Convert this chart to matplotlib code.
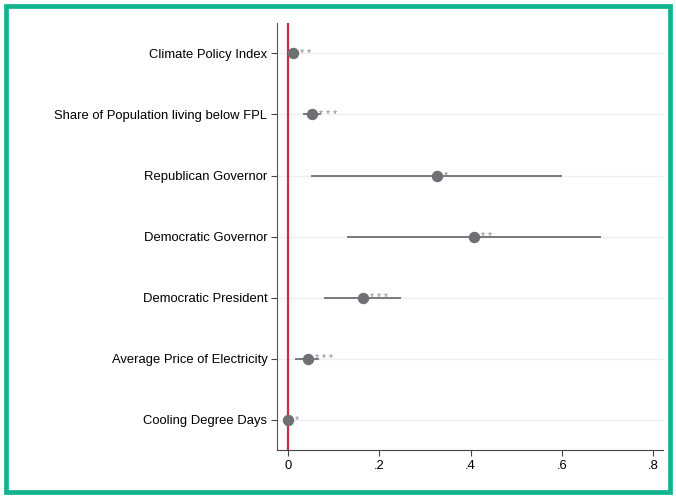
import matplotlib

matplotlib.use("Agg")

import matplotlib.pyplot as plt
from matplotlib.patches import Rectangle

labels = [
    "Climate Policy Index",
    "Share of Population living below FPL",
    "Republican Governor",
    "Democratic Governor",
    "Democratic President",
    "Average Price of Electricity",
    "Cooling Degree Days",
]
coef = [0.011, 0.053, 0.326, 0.408, 0.164, 0.044, 0.0]
ci_low = [0.008, 0.035, 0.053, 0.132, 0.081, 0.018, -0.002]
ci_high = [0.014, 0.070, 0.598, 0.684, 0.246, 0.066, 0.002]
stars = ["**", "***", "*", "**", "***", "***", "*"]
xticks = [0, 0.2, 0.4, 0.6, 0.8]
xticklabels = ["0", ".2", ".4", ".6", ".8"]

plt.rcParams["font.family"] = ["Liberation Sans", "DejaVu Sans"]

fig = plt.figure(figsize=(6.76, 4.98), dpi=100)
ax = fig.add_axes([0.41, 0.096, 0.571, 0.858])

pos = list(range(1, len(labels) + 1))
grey = "#6e7073"

for y in pos:
    ax.axhline(y, color="#e9f1f3", lw=1.0, zorder=0)

ax.axvline(0, color="#cc2a45", lw=1.6, zorder=1)

for y, c, lo, hi, s in zip(pos, coef, ci_low, ci_high, stars):
    ax.plot([lo, hi], [y, y], color="#76787b", lw=1.4, zorder=2)
    ax.plot(c, y, "o", color=grey, ms=7.2, zorder=3)
    ax.annotate(" ".join(s), (c, y), xytext=(5, -0.6), textcoords="offset points",
                fontsize=7.5, color="#85878a", va="center", ha="left", zorder=5)

ax.set_ylim(7.5, 0.5)
ax.set_xlim(-0.024, 0.822)
ax.set_yticks(pos)
ax.set_yticklabels(labels, fontsize=9.4)
ax.set_xticks(xticks)
ax.set_xticklabels(xticklabels, fontsize=9.4)
ax.spines["top"].set_visible(False)
ax.spines["right"].set_visible(False)
ax.spines["left"].set_color("#555555")
ax.spines["bottom"].set_color("#444444")
ax.tick_params(length=4, color="#444444", pad=3)

fig.patches.append(Rectangle((0.0086, 0.0116), 0.9828, 0.9768, transform=fig.transFigure,
                             fill=False, edgecolor="#12b38f", lw=3.4))

fig.savefig("out.png", dpi=100)
